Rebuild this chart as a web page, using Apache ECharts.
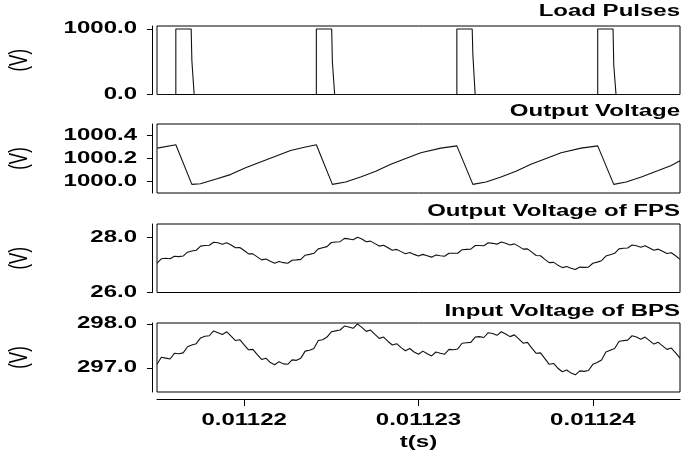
<!DOCTYPE html>
<html><head><meta charset="utf-8">
<script src="https://cdn.jsdelivr.net/npm/echarts@6/dist/echarts.min.js"></script>
<style>html,body{margin:0;padding:0;background:#fff}#c{width:692px;height:459px}</style>
</head><body><div id="c"></div>
<script>
// ---- data ----
var panelTitles = ['Load Pulses', 'Output Voltage', 'Output Voltage of FPS', 'Input Voltage of BPS'];
var xTicks = [0.01122, 0.01123, 0.01124];
var xMin = 0.011215, xMax = 0.011245;
var xName = 't(s)';
var yName = '(V)';

// Load pulses: time (s) and voltage (V)
var pulseT = [0.011215, 0.01121608, 0.01121608, 0.01121696, 0.01121700, 0.01121713,
  0.01122414, 0.01122414, 0.01122502, 0.01122506, 0.01122519,
  0.01123220, 0.01123220, 0.01123308, 0.01123312, 0.01123325,
  0.01124028, 0.01124028, 0.01124116, 0.01124120, 0.01124133, 0.011245];
var pulseV = [0, 0, 1000, 1000, 520, 0,
  0, 1000, 1000, 500, 0,
  0, 1000, 1000, 600, 0,
  0, 1000, 1000, 450, 0, 0];

// Output voltage (sawtooth)
var outT = [0.01121502, 0.01121608, 0.01121700, 0.01121749, 0.01121835, 0.01121921, 0.01122008, 0.01122094,
  0.01122180, 0.01122266, 0.01122352, 0.01122414, 0.01122506, 0.01122582, 0.01122668, 0.01122755,
  0.01122841, 0.01122927, 0.01123013, 0.01123128, 0.01123220, 0.01123312, 0.01123387, 0.01123473,
  0.01123559, 0.01123645, 0.01123732, 0.01123818, 0.01123933, 0.01124028, 0.01124120, 0.01124191,
  0.01124278, 0.01124364, 0.01124450, 0.01124500];
var outV = [1000.29, 1000.32, 999.975, 999.98, 1000.02, 1000.06, 1000.12, 1000.17,
  1000.22, 1000.27, 1000.30, 1000.32, 999.975, 999.995, 1000.04, 1000.09,
  1000.15, 1000.20, 1000.25, 1000.29, 1000.31, 999.975, 999.995, 1000.04,
  1000.09, 1000.15, 1000.20, 1000.25, 1000.29, 1000.31, 999.975, 999.995,
  1000.04, 1000.09, 1000.14, 1000.18];

// FPS output / BPS input, sampled from t0 every dt
var waveT0 = 0.011215, waveDt = 2.5e-7;
var fpsV = [27.06, 27.22, 27.24, 27.22, 27.31, 27.30, 27.32, 27.46, 27.50, 27.53,
  27.68, 27.70, 27.71, 27.82, 27.80, 27.75, 27.80, 27.72, 27.62, 27.63,
  27.52, 27.40, 27.40, 27.29, 27.18, 27.21, 27.13, 27.06, 27.12, 27.08,
  27.06, 27.17, 27.18, 27.20, 27.35, 27.38, 27.42, 27.58, 27.62, 27.66,
  27.81, 27.83, 27.84, 27.96, 27.94, 27.91, 28.00, 27.94, 27.84, 27.86,
  27.77, 27.68, 27.71, 27.62, 27.53, 27.56, 27.48, 27.40, 27.45, 27.38,
  27.32, 27.38, 27.33, 27.28, 27.36, 27.33, 27.31, 27.42, 27.42, 27.42,
  27.55, 27.56, 27.57, 27.70, 27.70, 27.69, 27.80, 27.78, 27.75, 27.83,
  27.78, 27.72, 27.76, 27.67, 27.57, 27.58, 27.46, 27.34, 27.33, 27.20,
  27.08, 27.09, 26.99, 26.90, 26.94, 26.88, 26.83, 26.92, 26.91, 26.92,
  27.06, 27.10, 27.15, 27.32, 27.37, 27.42, 27.58, 27.60, 27.61, 27.72,
  27.69, 27.64, 27.69, 27.61, 27.53, 27.57, 27.49, 27.41, 27.44, 27.33,
  27.20];
var bpsV = [297.08, 297.24, 297.22, 297.20, 297.33, 297.32, 297.34, 297.48, 297.52, 297.55,
  297.68, 297.72, 297.73, 297.84, 297.80, 297.76, 297.82, 297.72, 297.62, 297.64,
  297.52, 297.41, 297.42, 297.30, 297.19, 297.22, 297.12, 297.07, 297.14, 297.09,
  297.08, 297.18, 297.17, 297.22, 297.38, 297.40, 297.44, 297.62, 297.64, 297.70,
  297.82, 297.84, 297.86, 297.95, 297.93, 297.90, 298.00, 297.92, 297.83, 297.86,
  297.76, 297.67, 297.70, 297.60, 297.52, 297.55, 297.46, 297.39, 297.44, 297.36,
  297.31, 297.38, 297.32, 297.27, 297.36, 297.33, 297.31, 297.42, 297.41, 297.43,
  297.56, 297.57, 297.58, 297.70, 297.71, 297.69, 297.80, 297.78, 297.74, 297.82,
  297.77, 297.71, 297.75, 297.66, 297.56, 297.58, 297.45, 297.33, 297.34, 297.21,
  297.08, 297.10, 296.99, 296.91, 296.95, 296.88, 296.84, 296.93, 296.92, 296.94,
  297.08, 297.12, 297.18, 297.36, 297.40, 297.44, 297.60, 297.62, 297.63, 297.73,
  297.70, 297.65, 297.70, 297.62, 297.54, 297.58, 297.50, 297.42, 297.45, 297.34,
  297.22];

var yTicks = [[0, 1000], [1000.0, 1000.2, 1000.4], [26.0, 28.0], [297.0, 298.0]];
var yRanges = [[0, 1045], [999.9, 1000.5], [26.0, 28.48], [296.45, 298.02]];

// ---- build ----
function pairs(ts, vs) { return vs.map(function (v, i) { return [ts[i], v]; }); }
function wave(vs) { return vs.map(function (v, i) { return [waveT0 + i * waveDt, v]; }); }
var seriesData = [pairs(pulseT, pulseV), pairs(outT, outV), wave(fpsV), wave(bpsV)];

var FONT = 'Liberation Sans, Arial, sans-serif';
var STRETCH = 1.5;   // the reference's lettering is wide (horizontally stretched)
var gridTops = [26, 124, 224, 323];
var gridH = [68.5, 69, 68.5, 69];
var titleCenters = [12, 112, 212, 312];

var option = {
  animation: false,
  backgroundColor: '#fff',
  grid: gridTops.map(function (top, i) {
    return { left: 157, right: 12, top: top, height: gridH[i], show: true,
      borderColor: '#000', borderWidth: 1, backgroundColor: 'transparent' };
  }),
  xAxis: gridTops.map(function (_, i) {
    var last = i === 3;
    return {
      type: 'value', gridIndex: i, min: xMin, max: xMax, position: 'bottom',
      show: last, offset: 7,
      axisLine: { show: last, lineStyle: { color: '#000', width: 1 } },
      axisTick: { show: last, length: 7, inside: false, customValues: xTicks, lineStyle: { color: '#000' } },
      axisLabel: { show: false },
      splitLine: { show: false }
    };
  }),
  yAxis: gridTops.map(function (_, i) {
    return {
      type: 'value', gridIndex: i, min: yRanges[i][0], max: yRanges[i][1], offset: 5,
      axisLine: { show: true, onZero: false, lineStyle: { color: '#000', width: 1 } },
      axisTick: { show: true, length: 5, customValues: yTicks[i], lineStyle: { color: '#000' } },
      axisLabel: { show: false },
      splitLine: { show: false }
    };
  }),
  series: seriesData.map(function (d, i) {
    return { type: 'line', xAxisIndex: i, yAxisIndex: i, data: d, showSymbol: false,
      lineStyle: { color: '#111', width: 1.1 }, silent: true, clip: true };
  })
};
var chart = echarts.init(document.getElementById('c'), null, { renderer: 'canvas' });
chart.setOption(option);

// Wide lettering: text drawn as graphic text, placed through the axes' own scales
function wideText(text, x, y, align, vAlign, bold, size, rotate) {
  var el = { type: 'text', x: x, y: y, silent: true,
    style: { text: text, fill: '#000', align: align, verticalAlign: vAlign,
      font: (bold ? 'bold ' : '') + size + 'px ' + FONT } };
  if (rotate) { el.rotation = Math.PI / 2; el.scaleY = STRETCH; }
  else { el.scaleX = STRETCH; }
  return el;
}
var g = [];
var rightEdge = chart.convertToPixel({ xAxisIndex: 0 }, xMax);
panelTitles.forEach(function (t, i) {
  g.push(wideText(t, rightEdge, titleCenters[i], 'right', 'middle', true, 16));
});
yTicks.forEach(function (ticks, i) {
  ticks.forEach(function (v) {
    var py = chart.convertToPixel({ yAxisIndex: i }, v);
    g.push(wideText(v.toFixed(1), 137, py, 'right', 'middle', true, 16));
  });
  var mid = (chart.convertToPixel({ yAxisIndex: i }, yRanges[i][0]) + chart.convertToPixel({ yAxisIndex: i }, yRanges[i][1])) / 2;
  g.push(wideText(yName, 20, mid, 'center', 'middle', false, 17, true));
});
xTicks.forEach(function (v) {
  var px = chart.convertToPixel({ xAxisIndex: 3 }, v);
  g.push(wideText(v.toFixed(5), px, 421, 'center', 'middle', true, 16));
});
var xMid = (chart.convertToPixel({ xAxisIndex: 3 }, xMin) + rightEdge) / 2;
g.push(wideText(xName, xMid, 443, 'center', 'middle', true, 16));
chart.setOption({ graphic: g });
</script></body></html>
